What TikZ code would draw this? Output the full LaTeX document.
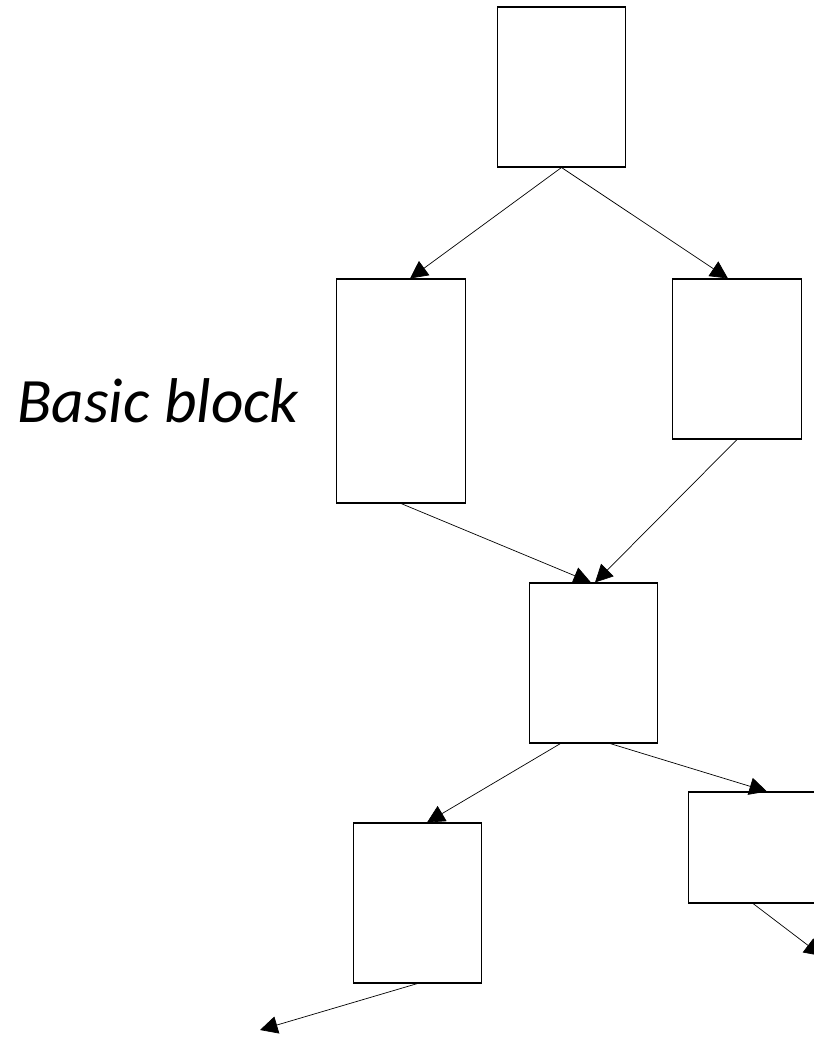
\documentclass[tikz,border=0pt]{standalone}
\usepackage{fontspec}
\setmainfont{Carlito}
\usepackage{tikz}
\usetikzlibrary{arrows.meta, positioning}

\begin{document}
\begin{tikzpicture}[x=0.02cm, y=-0.02cm,
    block/.style={rectangle, draw, line width=0.6pt, minimum width=2.57cm, minimum height=3.2cm, inner sep=0pt},
    arrow/.style={line width=0.4pt, -{Triangle[length=10pt, width=10pt]}},
    label/.style={font=\itshape\fontsize{36}{40}\selectfont, inner sep=0pt}
]
\useasboundingbox (0,0) rectangle (814,1037);

% Blocks
\node[block] (entry) at (561.5,87) {};
\node[block, minimum height=4.48cm] (bbL) at (401,391) {};
\node[block] (bbR) at (737,359) {};
\node[block] (merge) at (593.5,663) {};
\node[block] (succL) at (417.5,903) {};
\node[block, minimum height=2.22cm] (succR) at (753,847.5) {};

% Label
\node[label, anchor=base east] (bblabel) at (299,422) {Basic block};

% Exits
\coordinate (outL) at (260,1030);
\coordinate (outR) at (822,956);

% Connections
\draw[arrow] (entry.south) -- ([xshift=0.18cm]bbL.north);
\draw[arrow] (entry.south) -- ([xshift=-0.18cm]bbR.north);
\draw[arrow] (bbL.south) -- ([xshift=-0.05cm]merge.north);
\draw[arrow] (bbR.south) -- ([xshift=0.03cm]merge.north);
\draw[arrow] ([xshift=-0.66cm]merge.south) -- ([xshift=0.19cm]succL.north);
\draw[arrow] ([xshift=0.33cm]merge.south) -- ([xshift=0.28cm]succR.north);
\draw[arrow] (succL.south) -- (outL);
\draw[arrow] (succR.south) -- (outR);

\end{tikzpicture}
\end{document}
